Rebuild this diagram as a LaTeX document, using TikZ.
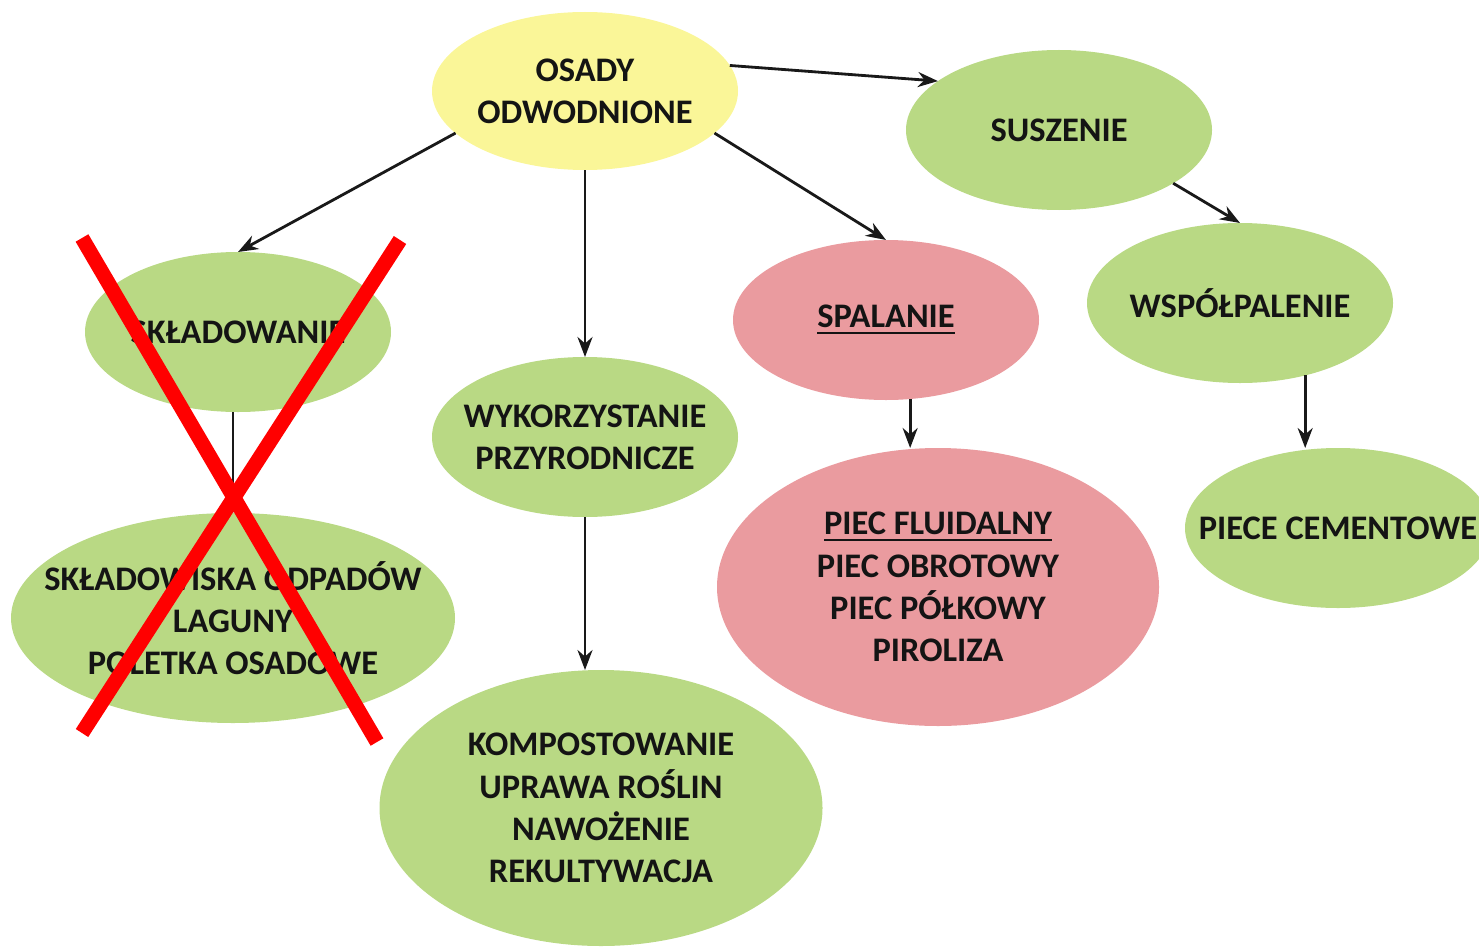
\documentclass[tikz,border=0pt]{standalone}
\usepackage{fontspec}
\setmainfont{Carlito}
\usepackage{tikz}
\usetikzlibrary{shapes.geometric,arrows.meta,calc}
\tikzset{>={Stealth[length=2mm,width=1.5mm]}}
\definecolor{zolty}{RGB}{250,246,152}
\definecolor{zielony}{RGB}{185,217,132}
\definecolor{rozowy}{RGB}{234,155,159}

\begin{document}
\begin{tikzpicture}[
  bubble/.style={ellipse, fill=zielony, inner sep=0pt, outer sep=0pt, minimum width=3.06cm, minimum height=1.6cm},
  txt/.style={font=\fontsize{9.8}{12}\selectfont\bfseries, align=center, text=black!92},
  line width=0.8pt, draw=black!90]
\clip (0,0) rectangle (14.79,-9.47);

\node[bubble, fill=zolty, minimum height=1.58cm, label={[txt]center:OSADY\\ODWODNIONE}] (osady) at (5.85,-0.91) {};
\node[bubble, label={[txt]center:SUSZENIE}] (suszenie) at (10.59,-1.30) {};
\node[bubble, label={[txt]center:SKŁADOWANIE}] (sklad) at (2.38,-3.32) {};
\node[bubble, label={[txt]center:WYKORZYSTANIE\\PRZYRODNICZE}] (wyk) at (5.85,-4.37) {};
\node[bubble, fill=rozowy, label={[txt]center:\underline{SPALANIE}}] (spal) at (8.86,-3.20) {};
\node[bubble, label={[txt]center:WSPÓŁPALENIE}] (wsp) at (12.40,-3.03) {};
\node[bubble, minimum width=4.44cm, minimum height=2.1cm, label={[txt]center:SKŁADOWISKA ODPADÓW\\LAGUNY\\POLETKA OSADOWE}] (skladowiska) at (2.33,-6.18) {};
\node[bubble, minimum width=4.43cm, minimum height=2.76cm, label={[txt]center:KOMPOSTOWANIE\\UPRAWA ROŚLIN\\NAWOŻENIE\\REKULTYWACJA}] (komp) at (6.01,-8.08) {};
\node[bubble, fill=rozowy, minimum width=4.42cm, minimum height=2.78cm, label={[txt]center:\underline{PIEC FLUIDALNY}\\PIEC OBROTOWY\\PIEC PÓŁKOWY\\PIROLIZA}] (piec) at (9.38,-5.87) {};
\node[bubble, label={[txt]center:PIECE CEMENTOWE}] (piece) at (13.38,-5.28) {};

\draw[->] (osady.198) -- (sklad.north);
\draw[->] (osady.south) -- (wyk.north);
\draw[->] (osady.-18) -- (spal.north);
\draw[->] (osady.10) -- (suszenie.158);
\draw[->] (suszenie.-25) -- (wsp.north);
\draw[->] (spal.-73) -- (spal.-73 |- piec.north);
\draw[->] (wsp.-48) -- (wsp.-48 |- piece.north);
\draw[->] (wyk.south) -- (wyk.south |- komp.north);
\draw[->] (skladowiska.north |- sklad.south) -- (skladowiska.north);

\draw[red, line width=4.2pt] (0.82,-2.38) -- (3.77,-7.42);
\draw[red, line width=4.2pt] (4.00,-2.40) -- (0.82,-7.33);
\end{tikzpicture}
\end{document}
